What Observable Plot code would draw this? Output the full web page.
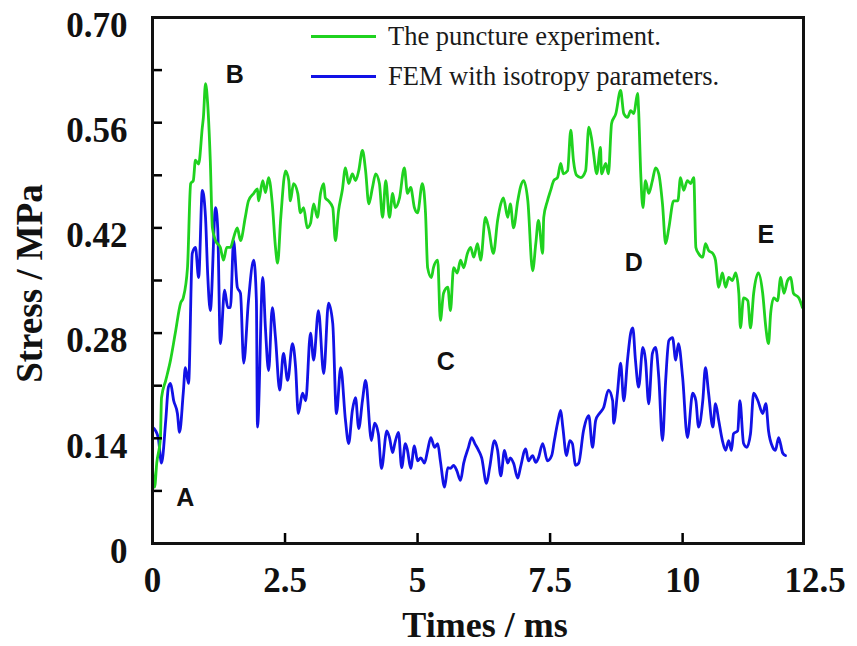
<!DOCTYPE html>
<html><head><meta charset="utf-8">
<script src="https://cdn.jsdelivr.net/npm/d3@7"></script>
<script src="https://cdn.jsdelivr.net/npm/@observablehq/plot@0.6"></script>
<style>
body{margin:0;background:#fff;}
#wrap{position:relative;width:857px;height:646px;}
#legend{position:absolute;left:311px;top:16px;font-family:"Liberation Serif",serif;font-size:26.5px;color:#1a1a1a;}
.row{display:flex;align-items:center;height:40px;white-space:nowrap;}
.sw{width:65px;height:3px;margin-right:12px;}
</style></head><body><div id="wrap"><div id="legend"></div></div>
<script>
const seriesNames = ["The puncture experiment.", "FEM with isotropy parameters."];
const seriesColors = ["#1fd21f", "#1212e6"];

const expTime = [0,0.04,0.08,0.15,0.17,0.25,0.34,0.43,0.53,0.58,
0.66,0.72,0.77,0.81,0.87,0.94,0.96,1.00,1.04,1.09,
1.13,1.19,1.28,1.34,1.40,1.47,1.53,1.60,1.66,1.75,
1.81,1.91,1.98,2.00,2.08,2.13,2.19,2.26,2.32,2.36,
2.42,2.51,2.57,2.60,2.66,2.74,2.79,2.85,2.92,2.98,
3.04,3.11,3.17,3.23,3.26,3.32,3.40,3.45,3.51,3.58,
3.64,3.70,3.77,3.83,3.89,3.96,4.02,4.08,4.15,4.21,
4.28,4.34,4.40,4.47,4.53,4.58,4.66,4.75,4.81,4.87,
4.94,5.00,5.09,5.15,5.19,5.26,5.30,5.38,5.43,5.49,
5.57,5.62,5.68,5.75,5.81,5.87,5.94,6.00,6.06,6.13,
6.19,6.28,6.34,6.43,6.51,6.57,6.62,6.70,6.75,6.81,
6.89,6.94,7.00,7.08,7.17,7.23,7.28,7.36,7.38,7.45,
7.51,7.57,7.64,7.70,7.75,7.83,7.89,7.94,8.00,8.08,
8.17,8.23,8.28,8.32,8.38,8.45,8.47,8.55,8.60,8.66,
8.74,8.83,8.89,8.96,9.02,9.08,9.15,9.17,9.21,9.25,
9.30,9.36,9.43,9.49,9.55,9.62,9.68,9.74,9.83,9.91,
9.96,10.02,10.09,10.15,10.21,10.25,10.30,10.38,10.43,10.49,
10.57,10.62,10.68,10.75,10.81,10.87,10.94,11.00,11.06,11.09,
11.15,11.23,11.28,11.34,11.43,11.51,11.57,11.62,11.66,11.72,
11.79,11.85,11.91,11.98,12.04,12.09,12.19,12.26];
const expStress = [0.10,0.075,0.107,0.141,0.194,0.217,0.244,0.28,0.32,0.327,
0.367,0.479,0.483,0.51,0.505,0.554,0.567,0.612,0.586,0.51,
0.42,0.403,0.394,0.377,0.394,0.394,0.407,0.42,0.403,0.434,
0.456,0.466,0.472,0.456,0.483,0.467,0.487,0.452,0.394,0.373,
0.434,0.496,0.483,0.456,0.479,0.466,0.44,0.447,0.42,0.426,
0.452,0.434,0.466,0.479,0.46,0.456,0.447,0.403,0.443,0.47,
0.50,0.479,0.492,0.483,0.496,0.523,0.496,0.452,0.474,0.492,
0.479,0.434,0.483,0.434,0.466,0.447,0.46,0.50,0.466,0.474,
0.447,0.44,0.479,0.44,0.367,0.354,0.367,0.377,0.297,0.333,
0.341,0.31,0.367,0.36,0.377,0.367,0.386,0.394,0.381,0.399,
0.377,0.434,0.42,0.386,0.43,0.452,0.46,0.434,0.452,0.42,
0.456,0.474,0.483,0.456,0.363,0.399,0.43,0.386,0.434,0.456,
0.47,0.483,0.487,0.506,0.492,0.496,0.55,0.51,0.49,0.487,
0.496,0.554,0.54,0.519,0.492,0.527,0.492,0.506,0.492,0.559,
0.572,0.603,0.572,0.567,0.576,0.572,0.599,0.576,0.492,0.447,
0.483,0.466,0.483,0.50,0.492,0.452,0.399,0.42,0.456,0.456,
0.487,0.47,0.483,0.479,0.487,0.394,0.386,0.381,0.399,0.39,
0.386,0.377,0.341,0.36,0.341,0.354,0.35,0.36,0.333,0.287,
0.327,0.323,0.287,0.333,0.36,0.333,0.287,0.266,0.306,0.327,
0.323,0.354,0.333,0.35,0.354,0.333,0.327,0.314];

const femTime = [0,0.06,0.11,0.17,0.25,0.30,0.34,0.40,0.47,0.51,
0.58,0.62,0.68,0.75,0.81,0.87,0.94,1.00,1.04,1.09,
1.19,1.23,1.28,1.36,1.42,1.47,1.53,1.60,1.66,1.72,
1.81,1.91,1.96,1.98,2.08,2.13,2.19,2.26,2.32,2.40,
2.47,2.55,2.64,2.70,2.75,2.83,2.89,2.98,3.04,3.13,
3.23,3.32,3.40,3.47,3.55,3.64,3.70,3.77,3.83,3.89,
3.96,4.02,4.13,4.19,4.26,4.32,4.42,4.47,4.53,4.57,
4.64,4.70,4.77,4.81,4.87,4.94,5.00,5.06,5.13,5.19,
5.25,5.32,5.38,5.43,5.51,5.57,5.62,5.68,5.74,5.81,
5.87,5.96,6.02,6.08,6.15,6.21,6.30,6.36,6.45,6.51,
6.57,6.64,6.70,6.75,6.81,6.89,6.94,7.04,7.09,7.17,
7.23,7.28,7.36,7.45,7.53,7.58,7.64,7.70,7.74,7.81,
7.87,7.92,7.98,8.04,8.13,8.23,8.30,8.36,8.43,8.51,
8.60,8.68,8.70,8.77,8.83,8.89,8.96,9.02,9.06,9.11,
9.17,9.25,9.30,9.36,9.43,9.49,9.55,9.62,9.68,9.74,
9.81,9.87,9.92,10.00,10.09,10.19,10.25,10.30,10.38,10.43,
10.49,10.57,10.62,10.68,10.75,10.81,10.87,10.92,10.96,11.04,
11.08,11.15,11.21,11.28,11.34,11.42,11.51,11.57,11.62,11.70,
11.75,11.81,11.89,11.94];
const femStress = [0.155,0.15,0.14,0.107,0.164,0.208,0.213,0.19,0.173,0.148,
0.2,0.234,0.213,0.386,0.394,0.354,0.47,0.434,0.36,0.31,
0.447,0.42,0.266,0.337,0.314,0.314,0.403,0.341,0.333,0.24,
0.323,0.377,0.323,0.155,0.354,0.287,0.23,0.314,0.274,0.204,
0.253,0.217,0.266,0.234,0.173,0.2,0.19,0.28,0.244,0.31,
0.226,0.32,0.293,0.173,0.234,0.164,0.133,0.177,0.194,0.153,
0.19,0.217,0.137,0.16,0.146,0.10,0.15,0.141,0.121,0.133,
0.148,0.101,0.133,0.124,0.10,0.13,0.11,0.114,0.107,0.124,
0.141,0.128,0.133,0.11,0.075,0.101,0.10,0.104,0.097,0.084,
0.107,0.128,0.141,0.133,0.124,0.114,0.08,0.101,0.137,0.124,
0.09,0.124,0.107,0.114,0.107,0.087,0.101,0.126,0.11,0.117,
0.108,0.114,0.133,0.11,0.117,0.137,0.16,0.177,0.155,0.117,
0.137,0.133,0.104,0.107,0.15,0.17,0.128,0.164,0.173,0.181,
0.204,0.19,0.16,0.2,0.24,0.19,0.244,0.28,0.287,0.244,
0.208,0.261,0.244,0.186,0.253,0.261,0.221,0.137,0.217,0.27,
0.274,0.244,0.266,0.221,0.141,0.2,0.19,0.155,0.19,0.234,
0.2,0.155,0.186,0.164,0.137,0.124,0.137,0.124,0.146,0.15,
0.19,0.133,0.128,0.146,0.2,0.19,0.173,0.186,0.15,0.128,
0.124,0.141,0.12,0.117];

const xTickValues = [0, 2.5, 5, 7.5, 10, 12.5];
const yTickValues = [0, 0.14, 0.28, 0.42, 0.56, 0.70];
const yMinorTicks = [0.07, 0.14, 0.21, 0.28, 0.35, 0.42, 0.49, 0.56, 0.63];
const xInnerTicks = [2.5, 5, 7.5, 10];

const noteLabels = ["A", "B", "C", "D", "E"];
const noteTime = [0.62, 1.55, 5.53, 9.08, 11.57];
const noteStress = [0.06, 0.623, 0.242, 0.373, 0.411];

const expData = expTime.map((t, i) => ({t, s: expStress[i]}));
const femData = femTime.map((t, i) => ({t, s: femStress[i]}));
const notes = noteLabels.map((l, i) => ({l, t: noteTime[i], s: noteStress[i]}));

const serif = "Liberation Serif, Times New Roman, serif";

const chart = Plot.plot({
  width: 857, height: 646,
  marginLeft: 152, marginRight: 54, marginTop: 17, marginBottom: 103,
  x: {domain: [0, 12.28]},
  y: {domain: [0, 0.70]},
  style: {background: "white"},
  marks: [
    Plot.line(femData, {x: "t", y: "s", stroke: seriesColors[1], strokeWidth: 2.8, curve: "monotone-x"}),
    Plot.line(expData, {x: "t", y: "s", stroke: seriesColors[0], strokeWidth: 2.8, curve: "monotone-x"}),
    Plot.text(notes, {x: "t", y: "s", text: "l", fontFamily: "Liberation Sans, Arial, sans-serif", fontWeight: "bold", fontSize: 25, fill: "#111"}),
    Plot.axisY({ticks: yMinorTicks, tickSize: 10, dx: 10, tickFormat: () => "", label: null, strokeWidth: 2.5}),
    Plot.axisX({ticks: xInnerTicks, tickSize: 10, dy: -10, tickFormat: () => "", label: null, strokeWidth: 2.5}),
    Plot.axisY({ticks: yTickValues, tickSize: 0, tickPadding: 25, dy: 8, label: null,
      tickFormat: d => d === 0 ? "0" : d.toFixed(2),
      fontFamily: serif, fontWeight: "bold", fontSize: 35, fill: "#111"}),
    Plot.axisX({ticks: xTickValues, tickSize: 0, tickPadding: 24, label: null,
      tickFormat: d => String(d),
      fontFamily: serif, fontWeight: "bold", fontSize: 35, fill: "#111"}),
    Plot.text(["Stress / MPa"], {frameAnchor: "left", dx: -122, dy: 3, rotate: -90,
      textAnchor: "middle", lineAnchor: "middle",
      fontFamily: serif, fontWeight: "bold", fontSize: 37, fill: "#111"}),
    Plot.text(["Times / ms"], {frameAnchor: "bottom", dx: 7, dy: 82,
      textAnchor: "middle", lineAnchor: "middle",
      fontFamily: serif, fontWeight: "bold", fontSize: 36, fill: "#111"}),
    Plot.frame({stroke: "#111", strokeWidth: 3})
  ]
});
document.getElementById("wrap").prepend(chart);

const legend = d3.select("#legend");
seriesNames.forEach((name, i) => {
  const row = legend.append("div").attr("class", "row");
  row.append("div").attr("class", "sw").style("background", seriesColors[i]);
  row.append("span").text(name);
});
</script>
</body></html>
